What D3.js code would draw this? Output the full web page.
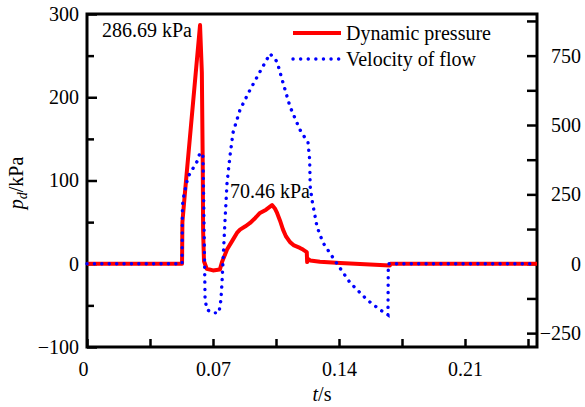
<!DOCTYPE html>
<html>
<head>
<meta charset="utf-8">
<script src="https://cdn.jsdelivr.net/npm/d3@7"></script>
<style>
  body { margin: 0; background: #fff; }
</style>
</head>
<body>
<div class="chart"></div>
<script>
// time (s) and dynamic pressure (kPa)
let pressureT = [0, 0.0528, 0.0530, 0.0544, 0.0628, 0.0638, 0.0643, 0.0645, 0.0650, 0.0665, 0.0700, 0.0738,
  0.0750, 0.0778, 0.0811, 0.0833, 0.0850, 0.0880, 0.0906, 0.0935, 0.0961, 0.0995, 0.1028, 0.1045, 0.1056,
  0.1072, 0.1089, 0.1105, 0.1128, 0.1150, 0.1183, 0.1200, 0.1221,
  0.1223, 0.1227, 0.1240, 0.1294, 0.1406, 0.1683, 0.1685, 0.25]
let pressureV = [0, 0, 50, 85, 286.69, 230, 120, 40, 3, -6, -8, -7,
  2, 17, 29, 37, 41, 45, 49, 55, 61, 65, 70.46, 66, 61,
  52, 41, 33, 26, 22, 19, 17, 14,
  2, 6, 4, 2.5, 1, -2, 0, 0]

// time (s) and velocity of flow (m/s)
let velocityT = [0, 0.0528, 0.0530, 0.0533, 0.0561, 0.0611, 0.0628, 0.0644, 0.0648, 0.0656, 0.0667, 0.0700,
  0.0733, 0.0744, 0.0750, 0.0756, 0.0767, 0.0778, 0.0794, 0.0811, 0.0850, 0.0906, 0.0961, 0.1017, 0.1056,
  0.1089, 0.1128, 0.1183, 0.1228, 0.1237, 0.1240, 0.1250, 0.1278, 0.1311, 0.1389, 0.1461, 0.1556, 0.1628,
  0.1672, 0.1674, 0.25]
let velocityV = [0, 0, 200, 230, 313, 368, 400, 393, 241, -130, -166, -177,
  -177, -130, -68, 14, 159, 292, 386, 472, 555, 627, 692, 757, 728,
  652, 566, 483, 436, 375, 278, 230, 133, 76, 0, -68, -130, -166,
  -184, 0, 0]

let xTicks = [0, 0.035, 0.07, 0.105, 0.14, 0.175, 0.21, 0.245]
let xLabels = ['0', '', '0.07', '', '0.14', '', '0.21', '']
let leftTicks = [-100, -50, 0, 50, 100, 150, 200, 250, 300]
let leftLabels = ['−100', '', '0', '', '100', '', '200', '', '300']
let rightTicks = [-250, -125, 0, 125, 250, 375, 500, 625, 750, 875]
let rightLabels = ['−250', '', '0', '', '250', '', '500', '', '750', '']

let w = 585, h = 407
let mLeft = 87, mRight = 537, mTop = 14, mBottom = 347
let font = "Liberation Serif, Times New Roman, serif"

let canvas = d3.select('.chart')
  .append('svg')
  .attr('width', w)
  .attr('height', h)

let x = d3.scaleLinear().domain([0, 0.25]).range([mLeft, mRight])
let yL = d3.scaleLinear().domain([-100, 300]).range([mBottom, mTop])
let yR = d3.scaleLinear().domain([-300, 900]).range([mBottom, mTop])

// bottom axis, ticks pointing in
let xAxis = canvas.append('g')
  .attr('transform', 'translate(0,' + mBottom + ')')
  .call(d3.axisBottom(x).tickValues(xTicks).tickSize(-8).tickSizeOuter(0).tickPadding(10)
    .tickFormat((d, i) => xLabels[i]))
xAxis.selectAll('text').attr('dy', '0.95em')
xAxis.selectAll('text').filter((d, i) => i == 0).attr('dx', -4)

let lAxis = canvas.append('g')
  .attr('transform', 'translate(' + mLeft + ',0)')
  .call(d3.axisLeft(yL).tickValues(leftTicks).tickSize(-10).tickSizeOuter(0).tickPadding(8)
    .tickFormat((d, i) => leftLabels[i]))
lAxis.selectAll('.tick line').filter((d, i) => leftLabels[i] == '').attr('x2', 7)

let rAxis = canvas.append('g')
  .attr('transform', 'translate(' + mRight + ',0)')
  .call(d3.axisRight(yR).tickValues(rightTicks).tickSize(-10).tickSizeOuter(0).tickPadding(0)
    .tickFormat((d, i) => rightLabels[i]))
rAxis.selectAll('text').attr('text-anchor', 'end').attr('x', 44)

canvas.selectAll('g').attr('font-family', font).attr('font-size', 20)
canvas.selectAll('.domain').remove()
canvas.selectAll('.tick line').attr('stroke', '#000').attr('stroke-width', 2.5)

canvas.append('rect')
  .attr('x', mLeft).attr('y', mTop)
  .attr('width', mRight - mLeft).attr('height', mBottom - mTop)
  .attr('fill', 'none').attr('stroke', '#000').attr('stroke-width', 3)

let pLine = d3.line().x(d => x(d[0])).y(d => yL(d[1]))
let vLine = d3.line().x(d => x(d[0])).y(d => yR(d[1]))

canvas.append('path')
  .datum(d3.zip(pressureT, pressureV))
  .attr('d', pLine)
  .attr('fill', 'none')
  .attr('stroke', '#ff0000')
  .attr('stroke-width', 4)
  .attr('stroke-linejoin', 'round')

canvas.append('path')
  .datum(d3.zip(velocityT, velocityV))
  .attr('d', vLine)
  .attr('fill', 'none')
  .attr('stroke', '#0000ff')
  .attr('stroke-width', 3.4)
  .attr('stroke-linecap', 'round')
  .attr('stroke-dasharray', '0.1 7.3')

function label(px, py, s) {
  return canvas.append('text').attr('x', px).attr('y', py)
    .attr('font-family', font).attr('font-size', 20).attr('fill', '#000').text(s)
}

// peak labels
label(102, 37, '286.69 kPa')
label(230, 198, '70.46 kPa')

// legend
canvas.append('line')
  .attr('x1', 293).attr('x2', 341).attr('y1', 33).attr('y2', 33)
  .attr('stroke', '#ff0000').attr('stroke-width', 4)
canvas.append('line')
  .attr('x1', 293).attr('x2', 341).attr('y1', 59).attr('y2', 59)
  .attr('stroke', '#0000ff').attr('stroke-width', 3.4)
  .attr('stroke-linecap', 'round').attr('stroke-dasharray', '0.1 7.5')
label(346, 40, 'Dynamic pressure')
label(346, 66, 'Velocity of flow')

// axis titles
let xt = label(322, 401, null).attr('text-anchor', 'middle')
xt.append('tspan').attr('font-style', 'italic').text('t')
xt.append('tspan').text('/s')

let yt = label(0, 0, null)
  .attr('transform', 'translate(23,183) rotate(-90)')
  .attr('text-anchor', 'middle')
yt.append('tspan').attr('font-style', 'italic').text('p')
yt.append('tspan').attr('font-style', 'italic').attr('font-size', 14).attr('dy', 4).text('d')
yt.append('tspan').attr('dy', -4).text('/kPa')
</script>
</body>
</html>
